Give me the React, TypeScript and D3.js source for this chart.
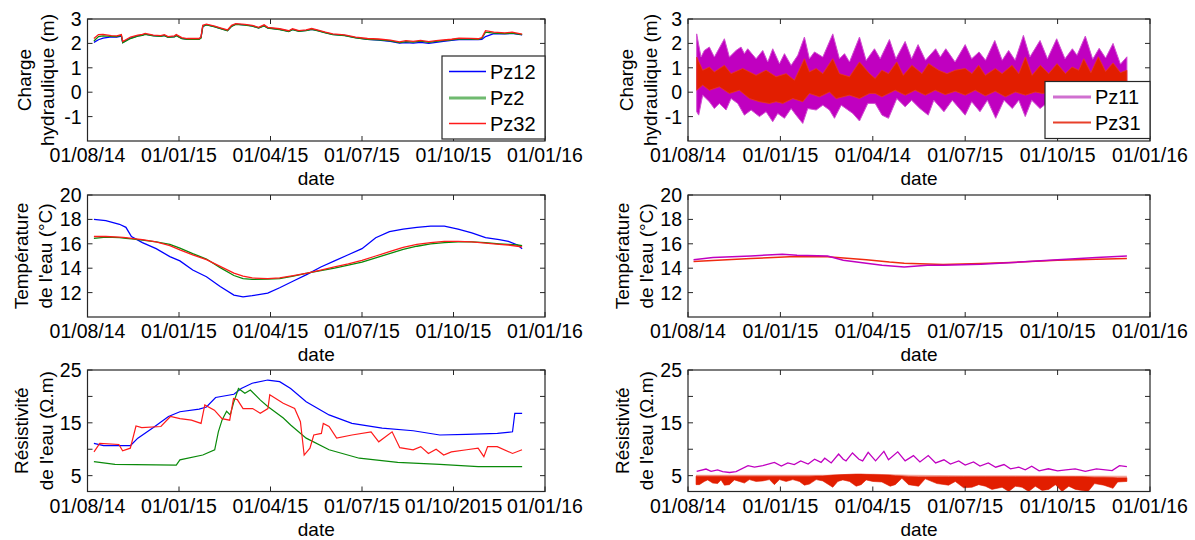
import React from 'react';
import * as d3 from 'd3';

const W = 1195;
const H = 540;
const FONT = "'Liberation Sans', Arial, sans-serif";

// ---------- tick labels ----------
const xTickPos = [0, 1, 2, 3, 4, 5];
const xLabelsStd = ['01/08/14', '01/01/15', '01/04/15', '01/07/15', '01/10/15', '01/01/16'];
const xLabelsHeadR = ['01/08/14', '01/01/15', '01/04/14', '01/07/15', '01/10/15', '01/01/16'];
const xLabelsResL = ['01/08/14', '01/01/15', '01/04/15', '01/07/15', '01/10/2015', '01/01/16'];
const headTicks = [-1, 0, 1, 2, 3];
const headTickLabels = ['-1', '0', '1', '2', '3'];
const tempTicks = [12, 14, 16, 18, 20];
const tempTickLabels = ['12', '14', '16', '18', '20'];
const resTicks = [5, 10, 15, 20, 25];
const resTickLabels = ['5', '', '15', '', '25'];

// ---------- top-left: hydraulic head ----------
const headT = [0.07,0.12,0.17,0.26,0.32,0.37,0.385,0.47,0.55,0.6,0.63,0.72,0.8,0.84,0.88,0.95,0.97,1.03,1.09,1.16,1.22,1.24,1.26,1.3,1.39,1.47,1.53,1.575,1.62,1.72,1.8,1.87,1.93,1.97,2.1,2.2,2.24,2.31,2.39,2.45,2.51,2.6,2.68,2.81,2.93,3.06,3.18,3.31,3.41,3.48,3.56,3.64,3.73,3.81,3.89,3.98,4.06,4.19,4.27,4.31,4.35,4.44,4.56,4.64,4.75];
const headPz12 = [2.04,2.15,2.22,2.27,2.26,2.3,2.04,2.22,2.31,2.34,2.38,2.32,2.3,2.33,2.26,2.28,2.33,2.21,2.18,2.19,2.19,2.24,2.7,2.77,2.69,2.6,2.53,2.71,2.79,2.76,2.72,2.64,2.73,2.64,2.58,2.5,2.57,2.5,2.53,2.58,2.53,2.44,2.37,2.33,2.24,2.17,2.14,2.08,2.01,2.03,2.01,2.04,2.0,2.04,2.08,2.12,2.16,2.17,2.16,2.17,2.28,2.4,2.39,2.41,2.35];
const headPz2 = [2.1,2.28,2.31,2.29,2.28,2.33,2.03,2.2,2.3,2.33,2.37,2.31,2.29,2.32,2.25,2.27,2.32,2.2,2.17,2.18,2.17,2.22,2.7,2.76,2.68,2.59,2.52,2.7,2.78,2.75,2.71,2.63,2.72,2.63,2.57,2.49,2.56,2.49,2.52,2.58,2.52,2.43,2.36,2.32,2.23,2.17,2.15,2.1,2.03,2.07,2.05,2.09,2.04,2.08,2.11,2.15,2.19,2.18,2.17,2.21,2.46,2.42,2.4,2.42,2.36];
const headPz32 = [2.2,2.36,2.37,2.32,2.31,2.36,2.08,2.26,2.34,2.37,2.41,2.34,2.32,2.36,2.28,2.31,2.36,2.24,2.2,2.21,2.2,2.26,2.74,2.79,2.71,2.62,2.55,2.74,2.81,2.78,2.74,2.66,2.76,2.66,2.6,2.52,2.6,2.52,2.55,2.61,2.55,2.46,2.39,2.35,2.26,2.2,2.18,2.13,2.06,2.11,2.08,2.12,2.07,2.11,2.14,2.17,2.22,2.21,2.19,2.24,2.52,2.46,2.43,2.46,2.38];

// ---------- top-right: hydraulic head envelopes (tidal bands) ----------
const headPz11UpT = [0.094,0.141,0.177,0.231,0.285,0.394,0.448,0.52,0.574,0.61,0.646,0.737,0.809,0.863,0.917,0.99,1.044,1.116,1.188,1.26,1.314,1.369,1.459,1.567,1.639,1.694,1.748,1.856,1.928,2.018,2.08,2.18,2.25,2.35,2.42,2.49,2.57,2.68,2.73,2.79,2.89,3.0,3.07,3.15,3.22,3.32,3.4,3.47,3.54,3.63,3.7,3.81,3.89,3.99,4.08,4.16,4.21,4.3,4.38,4.45,4.52,4.6,4.68,4.75];
const headPz11Up = [2.39,1.44,1.71,1.85,1.44,2.19,1.44,1.71,1.85,1.58,1.78,1.37,1.71,1.24,1.78,1.17,1.58,1.1,1.51,2.26,1.37,1.65,1.44,2.39,1.37,1.58,1.24,2.26,1.3,1.78,1.37,2.16,1.37,2.08,1.37,1.95,1.31,1.78,1.44,1.78,1.24,1.95,1.37,1.65,1.31,2.12,1.31,1.71,1.31,2.33,1.44,2.12,1.37,2.19,1.37,1.78,1.51,2.3,1.35,1.8,1.4,2.0,1.15,1.45];
const headPz11LoT = [0.094,0.116,0.159,0.231,0.285,0.339,0.412,0.466,0.538,0.61,0.683,0.773,0.845,0.917,0.971,1.044,1.116,1.17,1.242,1.296,1.387,1.459,1.531,1.585,1.658,1.784,1.856,1.946,2.026,2.1,2.17,2.26,2.35,2.42,2.51,2.6,2.66,2.77,2.86,3.0,3.07,3.16,3.24,3.33,3.42,3.51,3.58,3.65,3.72,3.81,3.9,4.0,4.1,4.2,4.3,4.4,4.5,4.6,4.68,4.75];
const headPz11Lo = [-0.8,-0.94,-0.12,-0.39,-0.67,-0.46,-0.73,-0.26,-0.46,-0.94,-0.73,-1.0,-0.8,-1.21,-0.87,-1.07,-0.67,-0.94,-1.28,-0.67,-0.73,-0.53,-0.73,-1.07,-0.53,-0.87,-1.18,-0.46,-0.46,-0.94,-1.07,-0.26,-0.6,-0.33,-0.67,-0.94,-0.33,-0.8,-0.33,-0.94,-0.39,-0.8,-0.33,-1.07,-0.33,-0.67,-0.33,-1.0,-0.33,-0.67,-0.4,-0.8,-0.4,-0.7,-1.0,-0.5,-0.8,-0.9,-0.4,-0.5];
const headPz31UpT = [0.094,0.159,0.231,0.285,0.394,0.466,0.592,0.737,0.845,0.953,1.062,1.152,1.26,1.314,1.387,1.459,1.567,1.639,1.748,1.856,1.964,2.026,2.098,2.17,2.26,2.33,2.423,2.532,2.604,2.712,2.803,2.893,3.0,3.073,3.146,3.218,3.326,3.399,3.507,3.58,3.652,3.724,3.814,3.904,3.994,4.085,4.157,4.229,4.283,4.36,4.44,4.52,4.6,4.68,4.75];
const headPz31Up = [1.44,0.9,1.03,0.83,1.1,0.76,0.97,0.69,0.9,0.63,0.76,0.49,1.37,0.83,0.97,0.76,1.37,0.76,0.63,1.24,0.76,0.56,0.9,0.76,1.24,0.69,1.1,0.76,1.17,0.9,0.76,0.9,0.97,0.76,1.1,0.69,0.97,0.76,1.1,0.76,1.44,0.69,1.1,0.76,1.17,0.76,1.03,0.9,1.37,0.8,1.45,0.85,1.2,0.8,0.9];
const headPz31LoT = [0.094,0.159,0.231,0.339,0.448,0.556,0.665,0.773,0.881,0.953,1.026,1.134,1.242,1.314,1.423,1.531,1.603,1.748,1.856,1.964,2.026,2.098,2.243,2.351,2.459,2.568,2.676,2.784,2.893,3.0,3.109,3.218,3.326,3.435,3.543,3.652,3.759,3.832,3.95,4.1,4.3,4.5,4.75];
const headPz31Lo = [0.08,0.29,0.08,0.22,-0.05,0.08,-0.26,-0.39,-0.46,-0.39,-0.46,-0.26,-0.39,-0.05,-0.19,0.01,-0.26,-0.12,-0.26,-0.05,-0.05,-0.19,0.08,-0.12,0.08,-0.12,0.08,-0.1,0.04,-0.12,0.08,-0.15,0.04,-0.19,0.01,-0.12,0.01,-0.05,0.0,-0.1,0.0,-0.1,0.0];

// ---------- middle-left: temperature ----------
const tempT = [0.07,0.2,0.35,0.42,0.48,0.6,0.75,0.9,1.01,1.15,1.3,1.45,1.6,1.7,1.8,1.97,2.1,2.25,2.4,2.55,2.7,2.85,3.0,3.15,3.3,3.45,3.6,3.75,3.9,4.05,4.2,4.35,4.5,4.6,4.7,4.75];
const tempPz12 = [18.0,17.9,17.6,17.35,16.6,16.1,15.6,14.95,14.6,13.85,13.3,12.5,11.8,11.65,11.75,11.95,12.4,12.95,13.5,14.1,14.6,15.1,15.6,16.5,17.0,17.2,17.35,17.45,17.45,17.2,16.9,16.5,16.35,16.2,15.9,15.6];
const tempPz2 = [16.45,16.55,16.5,16.45,16.4,16.3,16.15,15.95,15.65,15.2,14.75,14.05,13.4,13.15,13.08,13.1,13.15,13.35,13.6,13.8,14.0,14.25,14.5,14.85,15.2,15.55,15.8,16.0,16.1,16.15,16.15,16.1,16.0,15.95,15.9,15.85];
const tempPz32 = [16.6,16.6,16.55,16.5,16.45,16.35,16.15,15.85,15.5,15.1,14.7,14.15,13.6,13.35,13.2,13.15,13.2,13.4,13.6,13.85,14.1,14.35,14.65,15.0,15.35,15.7,15.95,16.1,16.2,16.2,16.15,16.05,15.95,15.9,15.8,15.75];

// ---------- middle-right: temperature ----------
const tempPz11T = [0.06,0.27,0.68,1.02,1.18,1.51,1.68,1.93,2.1,2.34,2.59,2.76,3.17,3.59,4.0,4.42,4.75];
const tempPz11 = [14.7,14.88,15.0,15.15,15.07,15.0,14.66,14.4,14.25,14.1,14.25,14.25,14.33,14.5,14.7,14.88,15.0];
const tempPz31T = [0.06,0.68,1.1,1.51,1.93,2.18,2.34,2.76,3.17,3.59,4.0,4.42,4.75];
const tempPz31 = [14.55,14.8,14.93,14.93,14.7,14.5,14.4,14.3,14.38,14.5,14.65,14.74,14.8];

// ---------- bottom-left: resistivity ----------
const resPz12T = [0.07,0.175,0.47,0.55,0.72,0.885,1.01,1.22,1.3,1.4,1.6,1.68,1.8,1.97,2.1,2.22,2.39,2.64,2.89,3.22,3.56,3.85,4.14,4.48,4.645,4.67,4.75];
const resPz12 = [11.1,10.7,10.7,12.1,14.1,16.2,17.1,17.6,18.0,19.8,20.4,21.5,22.5,23.1,22.8,21.5,19.0,16.5,14.9,14.0,13.5,12.7,12.8,13.0,13.3,16.8,16.8];
const resPz2T = [0.07,0.3,0.97,1.01,1.26,1.39,1.43,1.47,1.52,1.56,1.6,1.65,1.72,1.78,1.89,1.97,2.14,2.22,2.39,2.64,2.97,3.39,3.85,4.27,4.75];
const resPz2 = [7.65,7.15,7.0,8.0,8.9,9.9,13.3,15.5,17.2,16.5,19.0,21.5,20.6,21.2,19.3,18.1,15.9,14.6,12.1,9.9,8.3,7.5,7.15,6.7,6.7];
const resPz32T = [0.071,0.134,0.343,0.384,0.468,0.53,0.593,0.802,0.906,1.011,1.136,1.241,1.282,1.387,1.47,1.554,1.596,1.637,1.7,1.805,1.888,1.972,1.992,2.139,2.264,2.327,2.368,2.431,2.473,2.556,2.577,2.64,2.723,2.89,3.099,3.183,3.329,3.413,3.559,3.642,3.726,3.81,3.893,3.977,4.144,4.269,4.332,4.373,4.478,4.645,4.749];
const resPz32 = [9.5,11.1,10.9,9.7,10.2,14.4,14.1,14.3,16.2,15.8,15.5,14.9,18.4,17.4,15.8,15.5,19.6,19.4,17.7,17.7,16.8,17.7,20.3,18.7,17.7,15.2,8.9,10.2,12.7,13.0,14.9,14.3,12.1,12.7,13.3,11.4,13.3,10.3,9.9,10.5,9.2,10.0,8.9,9.5,9.9,10.2,8.6,10.5,10.5,9.2,9.9];

// ---------- bottom-right: resistivity ----------
const resPz11T = [0.094,0.195,0.25,0.32,0.375,0.45,0.52,0.65,0.72,0.81,0.935,1.01,1.08,1.15,1.22,1.3,1.37,1.44,1.48,1.55,1.63,1.68,1.71,1.78,1.85,1.89,1.95,2.03,2.12,2.17,2.27,2.35,2.44,2.51,2.6,2.68,2.77,2.84,2.93,3.0,3.09,3.16,3.25,3.33,3.42,3.49,3.58,3.65,3.72,3.8,3.9,4.0,4.09,4.19,4.3,4.42,4.59,4.67,4.75];
const resPz11 = [5.8,6.25,5.8,6.1,5.75,5.6,5.75,6.9,6.6,6.9,7.5,6.8,7.4,7.1,7.8,7.2,8.1,7.5,8.3,7.4,9.1,8.1,7.8,9.3,8.1,7.8,9.4,7.8,9.6,8.0,9.5,7.8,8.8,7.6,8.8,7.4,8.0,7.2,7.8,7.0,7.6,6.8,7.4,6.6,7.1,6.3,6.6,6.1,6.8,5.9,6.3,5.9,6.1,6.3,5.8,6.27,5.95,6.9,6.7];
const resPz31T = [0.087,0.123,0.177,0.213,0.267,0.321,0.357,0.394,0.448,0.502,0.556,0.61,0.664,0.737,0.809,0.881,0.935,0.99,1.062,1.134,1.206,1.26,1.314,1.387,1.459,1.567,1.621,1.675,1.748,1.82,1.874,1.928,2.0,2.098,2.188,2.243,2.315,2.387,2.496,2.568,2.694,2.82,2.893,2.983,3.073,3.146,3.218,3.29,3.399,3.471,3.543,3.615,3.687,3.759,3.832,3.904,3.976,4.048,4.121,4.193,4.265,4.33,4.4,4.5,4.6,4.65,4.75];
const resPz31Hi = [4.9,4.9,4.9,4.9,4.9,4.9,4.9,4.9,4.9,4.9,4.9,4.9,4.9,4.9,4.9,4.9,4.9,4.9,4.9,4.9,4.9,4.9,4.9,4.95,4.95,5.1,5.15,5.2,5.25,5.3,5.3,5.25,5.2,5.15,5.1,5.0,4.95,4.85,4.8,4.8,4.8,4.8,4.8,4.8,4.8,4.8,4.8,4.8,4.8,4.8,4.8,4.8,4.8,4.8,4.8,4.8,4.8,4.8,4.8,4.8,4.8,4.75,4.7,4.7,4.65,4.6,4.6];
const resPz31Lo = [3.3,3.3,3.9,4.2,3.6,3.5,4.2,3.2,3.3,4.2,3.9,3.6,4.25,3.9,4.0,4.25,3.3,4.25,3.9,4.25,3.9,3.2,3.4,4.25,4.0,2.8,3.9,4.2,3.9,3.0,3.3,4.2,3.9,3.8,3.0,3.3,4.5,3.3,3.0,4.4,3.5,3.2,3.9,2.7,2.8,3.3,3.0,2.4,2.8,2.0,3.0,2.8,2.0,3.0,2.2,2.4,3.3,2.0,3.0,2.4,2.2,2.0,3.5,3.2,2.6,3.8,3.9];
const resPz31MeanT = [0.087, 1.5, 2.0, 2.4, 3.0, 4.0, 4.75];
const resPz31Mean = [5.05, 5.05, 5.2, 5.05, 4.95, 4.9, 4.85];

// ---------- colours ----------
const C_BLUE = '#0000ff';
const C_GREEN = '#0a8a0a';
const C_RED = '#ff1a1a';
const C_MAG = '#c000c0';
const C_RED2 = '#e21e00';

type Pt = [number, number];
const pts = (t: number[], v: number[]): Pt[] => d3.zip(t, v) as Pt[];

interface PanelProps {
  id: string;
  x0: number; x1: number; y0: number; y1: number;
  yDomain: [number, number];
  yTicks: number[]; yTickLabels: string[];
  xLabels: string[];
  yLab: [string, string];
  yLabX: [number, number];
  render: (xs: d3.ScaleLinear<number, number>, ys: d3.ScaleLinear<number, number>) => React.ReactNode;
  legend?: React.ReactNode;
}

function Panel(p: PanelProps) {
  const xs = d3.scaleLinear().domain([0, 5]).range([p.x0, p.x1]);
  const ys = d3.scaleLinear().domain(p.yDomain).range([p.y1, p.y0]);
  const cy = (p.y0 + p.y1) / 2;
  const cx = (p.x0 + p.x1) / 2;
  const TL = 5;
  const axisCol = '#262626';
  return (
    <g>
      <defs>
        <clipPath id={p.id}>
          <rect x={p.x0} y={p.y0} width={p.x1 - p.x0} height={p.y1 - p.y0} />
        </clipPath>
      </defs>
      <rect x={p.x0} y={p.y0} width={p.x1 - p.x0} height={p.y1 - p.y0} fill="#fff" />
      <g clipPath={`url(#${p.id})`}>{p.render(xs, ys)}</g>
      {/* ticks */}
      {xTickPos.map((t) => (
        <g key={'xt' + t}>
          <line x1={xs(t)} x2={xs(t)} y1={p.y1} y2={p.y1 - TL} stroke={axisCol} strokeWidth={1} />
          <line x1={xs(t)} x2={xs(t)} y1={p.y0} y2={p.y0 + TL} stroke={axisCol} strokeWidth={1} />
          <text x={xs(t)} y={p.y1 + 21} textAnchor="middle" fontSize={19.5} fontFamily={FONT} fill="#000">
            {p.xLabels[t]}
          </text>
        </g>
      ))}
      {p.yTicks.map((v, i) => (
        <g key={'yt' + v}>
          <line x1={p.x0} x2={p.x0 + TL} y1={ys(v)} y2={ys(v)} stroke={axisCol} strokeWidth={1} />
          <line x1={p.x1} x2={p.x1 - TL} y1={ys(v)} y2={ys(v)} stroke={axisCol} strokeWidth={1} />
          {p.yTickLabels[i] ? (
            <text x={p.x0 - 6} y={ys(v)} dy="0.36em" textAnchor="end" fontSize={19.5} fontFamily={FONT} fill="#000">
              {p.yTickLabels[i]}
            </text>
          ) : null}
        </g>
      ))}
      <rect x={p.x0} y={p.y0} width={p.x1 - p.x0} height={p.y1 - p.y0} fill="none" stroke={axisCol} strokeWidth={1.2} />
      <text x={cx} y={p.y1 + 44} textAnchor="middle" fontSize={19} fontFamily={FONT} fill="#000">date</text>
      <text transform={`translate(${p.yLabX[0]},${cy}) rotate(-90)`} textAnchor="middle" dy="0.36em" fontSize={19} fontFamily={FONT} fill="#000">
        {p.yLab[0]}
      </text>
      <text transform={`translate(${p.yLabX[1]},${cy}) rotate(-90)`} textAnchor="middle" dy="0.36em" fontSize={19} fontFamily={FONT} fill="#000">
        {p.yLab[1]}
      </text>
      {p.legend}
    </g>
  );
}

function lineOf(xs: d3.ScaleLinear<number, number>, ys: d3.ScaleLinear<number, number>, data: Pt[]) {
  return d3.line<Pt>().x((d) => xs(d[0])).y((d) => ys(d[1]))(data) || '';
}

function bandOf(xs: d3.ScaleLinear<number, number>, ys: d3.ScaleLinear<number, number>, up: Pt[], lo: Pt[]) {
  const poly = up.concat(lo.slice().reverse());
  return (d3.line<Pt>().x((d) => xs(d[0])).y((d) => ys(d[1]))(poly) || '') + 'Z';
}

const LX0 = 87.5, LX1 = 545;
const RX0 = 688, RX1 = 1150;
const ROW1: [number, number] = [19, 141];
const ROW2: [number, number] = [195, 317];
const ROW3: [number, number] = [370, 491.5];

export default function App() {
  const legendText = (x: number, y: number, s: string) => (
    <text x={x} y={y} dy="0.36em" fontSize={20} fontFamily={FONT} fill="#000">{s}</text>
  );
  return (
    <svg width={W} height={H} style={{ position: 'absolute', left: 0, top: 0, background: '#fff' }}>
      <rect x={0} y={0} width={W} height={H} fill="#fff" />
      {/* Top-left */}
      <Panel
        id="c1" x0={LX0} x1={LX1} y0={ROW1[0]} y1={ROW1[1]}
        yDomain={[-2, 3]} yTicks={headTicks} yTickLabels={headTickLabels}
        xLabels={xLabelsStd} yLab={['Charge', 'hydraulique (m)']} yLabX={[24, 47]}
        render={(xs, ys) => (
          <g fill="none" strokeWidth={1.3}>
            <path d={lineOf(xs, ys, pts(headT, headPz12))} stroke={C_BLUE} />
            <path d={lineOf(xs, ys, pts(headT, headPz2))} stroke={C_GREEN} />
            <path d={lineOf(xs, ys, pts(headT, headPz32))} stroke={C_RED} />
          </g>
        )}
        legend={
          <g>
            <rect x={442} y={56} width={LX1 - 442} height={83} fill="#fff" stroke="#262626" strokeWidth={1.2} />
            <line x1={449} x2={486} y1={71.5} y2={71.5} stroke={C_BLUE} strokeWidth={1.5} />
            <line x1={449} x2={486} y1={98} y2={98} stroke="#6fba6f" strokeWidth={3} />
            <line x1={449} x2={486} y1={123.5} y2={123.5} stroke={C_RED} strokeWidth={1.5} />
            {legendText(490, 71.5, 'Pz12')}
            {legendText(490, 98, 'Pz2')}
            {legendText(490, 123.5, 'Pz32')}
          </g>
        }
      />
      {/* Top-right */}
      <Panel
        id="c2" x0={RX0} x1={RX1} y0={ROW1[0]} y1={ROW1[1]}
        yDomain={[-2, 3]} yTicks={headTicks} yTickLabels={headTickLabels}
        xLabels={xLabelsHeadR} yLab={['Charge', 'hydraulique (m)']} yLabX={[626, 650]}
        render={(xs, ys) => (
          <g>
            <path d={bandOf(xs, ys, pts(headPz11UpT, headPz11Up), pts(headPz11LoT, headPz11Lo))} fill={C_MAG} stroke="#d050d0" strokeWidth={1} />
            <path d={bandOf(xs, ys, pts(headPz31UpT, headPz31Up), pts(headPz31LoT, headPz31Lo))} fill={C_RED2} stroke="#e83a20" strokeWidth={0.8} />
          </g>
        )}
        legend={
          <g>
            <rect x={1045} y={81.5} width={RX1 - 1045} height={57} fill="#fff" stroke="#262626" strokeWidth={1.2} />
            <line x1={1053} x2={1091} y1={97} y2={97} stroke="#d070d0" strokeWidth={3} />
            <line x1={1053} x2={1091} y1={122.5} y2={122.5} stroke="#e8402a" strokeWidth={2} />
            {legendText(1095, 97, 'Pz11')}
            {legendText(1095, 122.5, 'Pz31')}
          </g>
        }
      />
      {/* Middle-left */}
      <Panel
        id="c3" x0={LX0} x1={LX1} y0={ROW2[0]} y1={ROW2[1]}
        yDomain={[10, 20]} yTicks={tempTicks} yTickLabels={tempTickLabels}
        xLabels={xLabelsStd} yLab={['Température', "de l'eau (°C)"]} yLabX={[21, 45]}
        render={(xs, ys) => (
          <g fill="none" strokeWidth={1.3}>
            <path d={lineOf(xs, ys, pts(tempT, tempPz12))} stroke={C_BLUE} />
            <path d={lineOf(xs, ys, pts(tempT, tempPz2))} stroke={C_GREEN} />
            <path d={lineOf(xs, ys, pts(tempT, tempPz32))} stroke={C_RED} />
          </g>
        )}
      />
      {/* Middle-right */}
      <Panel
        id="c4" x0={RX0} x1={RX1} y0={ROW2[0]} y1={ROW2[1]}
        yDomain={[10, 20]} yTicks={tempTicks} yTickLabels={tempTickLabels}
        xLabels={xLabelsStd} yLab={['Température', "de l'eau (°C)"]} yLabX={[622, 646]}
        render={(xs, ys) => (
          <g fill="none" strokeWidth={1.5}>
            <path d={lineOf(xs, ys, pts(tempPz31T, tempPz31))} stroke="#f02a10" />
            <path d={lineOf(xs, ys, pts(tempPz11T, tempPz11))} stroke={C_MAG} />
          </g>
        )}
      />
      {/* Bottom-left */}
      <Panel
        id="c5" x0={LX0} x1={LX1} y0={ROW3[0]} y1={ROW3[1]}
        yDomain={[2, 25]} yTicks={resTicks} yTickLabels={resTickLabels}
        xLabels={xLabelsResL} yLab={['Résistivité', "de l'eau (Ω.m)"]} yLabX={[21, 46]}
        render={(xs, ys) => (
          <g fill="none" strokeWidth={1.2}>
            <path d={lineOf(xs, ys, pts(resPz12T, resPz12))} stroke={C_BLUE} />
            <path d={lineOf(xs, ys, pts(resPz2T, resPz2))} stroke={C_GREEN} />
            <path d={lineOf(xs, ys, pts(resPz32T, resPz32))} stroke={C_RED} />
          </g>
        )}
      />
      {/* Bottom-right */}
      <Panel
        id="c6" x0={RX0} x1={RX1} y0={ROW3[0]} y1={ROW3[1]}
        yDomain={[2, 25]} yTicks={resTicks} yTickLabels={resTickLabels}
        xLabels={xLabelsStd} yLab={['Résistivité', "de l'eau (Ω.m)"]} yLabX={[622, 646]}
        render={(xs, ys) => (
          <g>
            <path d={lineOf(xs, ys, pts(resPz31MeanT, resPz31Mean))} fill="none" stroke="#f4a49a" strokeWidth={1.5} />
            <path d={bandOf(xs, ys, pts(resPz31T, resPz31Hi), pts(resPz31T, resPz31Lo))} fill={C_RED2} stroke={C_RED2} strokeWidth={0.6} />
            <path d={lineOf(xs, ys, pts(resPz11T, resPz11))} fill="none" stroke={C_MAG} strokeWidth={1.3} />
          </g>
        )}
      />
    </svg>
  );
}
